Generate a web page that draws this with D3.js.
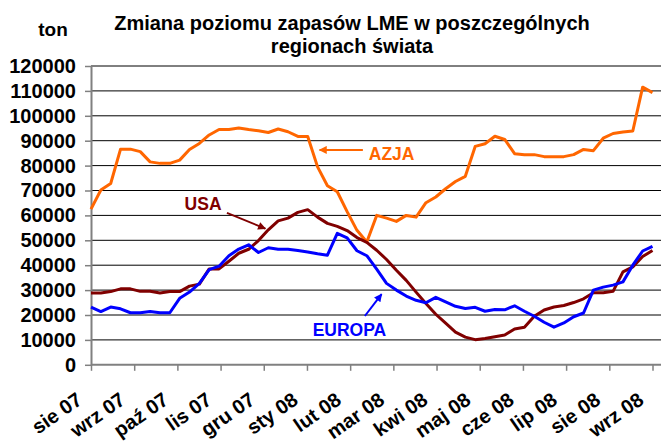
<!DOCTYPE html>
<html>
<head>
<meta charset="utf-8">
<script src="https://cdn.jsdelivr.net/npm/d3@7/dist/d3.min.js"></script>
<style>
   body { margin: 0; background: #fff; }
   svg { display: block; font-family: 'Liberation Sans', Arial, sans-serif; font-weight: bold; }
</style>
</head>
<body>
<div id="chart"></div>
<script>
// MONTH LABELS ON THE X-AXIS
var months = ['sie 07', 'wrz 07', 'paź 07', 'lis 07', 'gru 07', 'sty 08', 'lut 08',
   'mar 08', 'kwi 08', 'maj 08', 'cze 08', 'lip 08', 'sie 08', 'wrz 08'];

// Y-AXIS TICKS
var yTicks = [0, 10000, 20000, 30000, 40000, 50000, 60000, 70000, 80000, 90000, 100000, 110000, 120000];

// WEEKLY STOCKS (TON)
var azja = [62500, 70200, 72800, 86600, 86600, 85600, 81500, 80900, 80900, 82200,
   86500, 88900, 92300, 94500, 94500, 95100, 94500, 94000, 93300, 94700,
   93600, 91700, 91700, 79500, 71900, 69500, 61500, 54000, 49300, 60000,
   58900, 57600, 60000, 59300, 65100, 67400, 70700, 73600, 75700, 87700,
   88800, 91800, 90500, 84800, 84400, 84400, 83600, 83600, 83600, 84400,
   86500, 86000, 91000, 92900, 93500, 93900, 111500, 109300];

var usa = [28800, 28800, 29400, 30500, 30500, 29500, 29500, 28800, 29400, 29400,
   31600, 32400, 38500, 38500, 41600, 44800, 46400, 49900, 54200, 57800,
   58900, 61200, 62300, 59300, 56800, 55600, 53900, 51100, 49200, 46000,
   42300, 38000, 33900, 29200, 24600, 20300, 16700, 13100, 11100, 10100,
   10600, 11300, 12000, 14400, 15100, 19500, 22000, 23200, 23800, 25000,
   26500, 28900, 28900, 29500, 37300, 39300, 43500, 45900];

var europa = [23200, 21400, 23200, 22500, 20900, 20900, 21400, 20900, 20900, 26700,
   29200, 32700, 38200, 39600, 43800, 46500, 48200, 45100, 47000, 46400,
   46400, 45900, 45300, 44600, 44000, 52800, 51000, 45800, 43800, 38400,
   32700, 30000, 27600, 25900, 24900, 27100, 25300, 23500, 22600, 23100,
   21500, 22200, 22100, 23700, 21500, 19500, 17100, 15100, 16800, 19300,
   20800, 30000, 31200, 32000, 33300, 40000, 45700, 47600];

// SERIES NAMES AND COLOURS
var names = ['AZJA', 'USA', 'EUROPA'];
var colors = ['#ff6600', '#800000', '#0000ff'];

// LABELS WITH ARROWS, IN WEEK INDEX / TON
var labelAt = [[28.2, 82200], [9.5, 62200], [22.5, 11600]];
var arrowFrom = [[27.6, 86300], [13.8, 61000], [27.8, 19600]];
var arrowTo = [[23.2, 86300], [17.7, 54700], [29.5, 28400]];

// LAYOUT
var settings = {
   width: 661,
   height: 443,
   left: 91,
   top: 66,
   bottom: 364.8,
   right: 661,
   last: 652.5
};

var series = [azja, usa, europa];

// GENERATE CANVAS
var canvas = d3.select('#chart').append('svg')
   .attr('width', settings.width)
   .attr('height', settings.height)

// X-SCALING (WEEKS) AND MONTH TICKS
var xScale = d3.scaleLinear()
   .domain([0, azja.length - 1])
   .range([settings.left, settings.last])

var monthScale = d3.scalePoint()
   .domain(months)
   .range([settings.left, settings.last])

// Y-SCALING
var yScale = d3.scaleLinear()
   .domain([0, 120000])
   .range([settings.bottom, settings.top])

// ARROW HEADS
var defs = canvas.append('defs');
colors.forEach((c, i) => {
   defs.append('marker')
      .attr('id', 'arrow' + i)
      .attr('viewBox', '0 0 10 10')
      .attr('refX', 9)
      .attr('refY', 5)
      .attr('markerWidth', 10)
      .attr('markerHeight', 8)
      .attr('markerUnits', 'userSpaceOnUse')
      .attr('orient', 'auto')
      .append('path')
         .attr('d', 'M0,0L10,5L0,10z')
         .attr('fill', c)
});

// TITLE
var title = canvas.append('text')
   .attr('x', 352)
   .attr('y', 30)
   .attr('text-anchor', 'middle')
   .style('font-size', '20px')

title.append('tspan').attr('x', 352).text('Zmiana poziomu zapasów LME w poszczególnych');
title.append('tspan').attr('x', 352).attr('dy', 23).text('regionach świata');

canvas.append('text')
   .attr('x', 53)
   .attr('y', 36)
   .attr('text-anchor', 'middle')
   .style('font-size', '19px')
   .text('ton')

// GRIDLINES
canvas.append('g')
   .selectAll('line')
   .data(yTicks.slice(1))
      .enter().append('line')
         .attr('x1', settings.left)
         .attr('x2', settings.right)
         .attr('y1', d => yScale(d))
         .attr('y2', d => yScale(d))
         .attr('stroke', '#000')
         .attr('stroke-width', 1)

// Y-AXIS
var yAxis = canvas.append('g')
   .attr('transform', 'translate(' + settings.left + ',0)')
   .call(d3.axisLeft(yScale).tickValues(yTicks).tickSize(6).tickSizeOuter(0).tickPadding(9).tickFormat(d3.format('d')))

yAxis.select('.domain').attr('stroke', '#808080').attr('stroke-width', 2);
yAxis.selectAll('.tick line').attr('stroke', '#808080').attr('stroke-width', 1.5);
yAxis.selectAll('text')
   .style('font-size', '20px')
   .style('font-family', "'Liberation Sans', Arial, sans-serif")
   .attr('fill', '#000')

// X-AXIS
var xAxis = canvas.append('g')
   .attr('transform', 'translate(0,' + settings.bottom + ')')
   .call(d3.axisBottom(monthScale).tickSize(6).tickSizeOuter(0))

xAxis.select('.domain').remove();
xAxis.append('line')
   .attr('x1', settings.left)
   .attr('x2', settings.right)
   .attr('stroke', '#808080')
   .attr('stroke-width', 2)
xAxis.selectAll('.tick line').attr('stroke', '#808080').attr('stroke-width', 1.5);

// ROTATED MONTH LABELS
xAxis.selectAll('text')
   .attr('x', 0)
   .attr('y', 0)
   .attr('dy', 0)
   .attr('text-anchor', 'end')
   .attr('transform', 'translate(-8,38) rotate(-35)')
   .style('font-size', '20px')
   .style('font-family', "'Liberation Sans', Arial, sans-serif")
   .attr('fill', '#000')

// GENERATE PATH METHOD
var pathify = d3.line()
   .x((d, i) => { return xScale(i) })
   .y((d) => { return yScale(d) })

// DRAW LINES
series.forEach((s, i) => {
   canvas.append('path')
      .attr('fill', 'none')
      .attr('stroke', colors[i])
      .attr('stroke-width', 3)
      .attr('stroke-linejoin', 'round')
      .attr('d', pathify(s))
});

// SERIES LABELS AND ARROWS
names.forEach((n, i) => {
   canvas.append('text')
      .attr('x', xScale(labelAt[i][0]))
      .attr('y', yScale(labelAt[i][1]))
      .attr('fill', colors[i])
      .style('font-size', '17.5px')
      .text(n)

   canvas.append('line')
      .attr('x1', xScale(arrowFrom[i][0]))
      .attr('y1', yScale(arrowFrom[i][1]))
      .attr('x2', xScale(arrowTo[i][0]))
      .attr('y2', yScale(arrowTo[i][1]))
      .attr('stroke', colors[i])
      .attr('stroke-width', 2)
      .attr('marker-end', 'url(#arrow' + i + ')')
});
</script>
</body>
</html>
